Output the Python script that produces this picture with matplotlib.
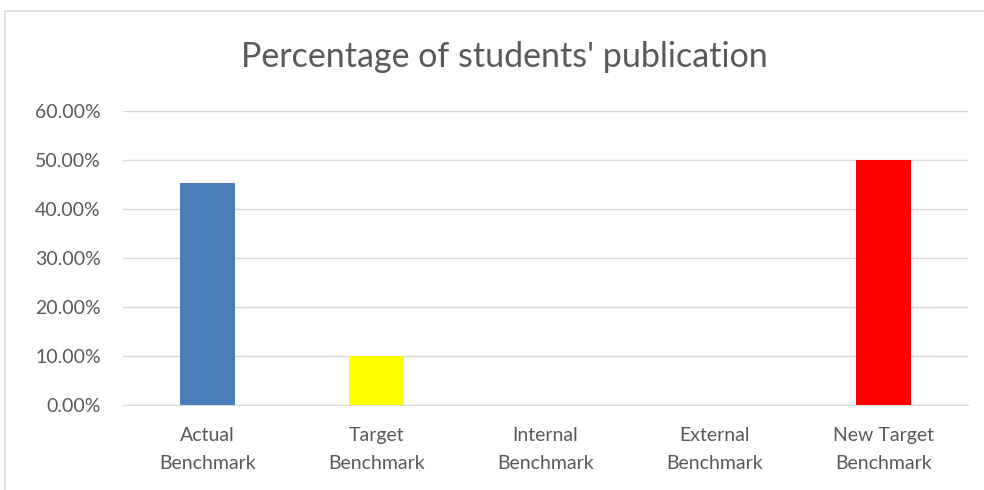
import matplotlib.pyplot as plt
from matplotlib.patches import Rectangle

categories = ['Actual\nBenchmark', 'Target\nBenchmark', 'Internal\nBenchmark',
              'External\nBenchmark', 'New Target\nBenchmark']
values = [0.453, 0.10, 0.0, 0.0, 0.50]
colors = ['#4a7ebb', '#ffff00', '#4a7ebb', '#4a7ebb', '#ff0000']

plt.rcParams['font.family'] = ['Lato', 'DejaVu Sans']

fig = plt.figure(figsize=(9.84, 4.9), dpi=100)
fig.patches.append(Rectangle((5 / 984, -0.1), 1.1, 1 - 11 / 490 + 0.1,
                             transform=fig.transFigure, fill=False,
                             edgecolor='#d9d9d9', linewidth=1.2))

ax = fig.add_axes([123 / 984, 1 - 405 / 490, (968 - 123) / 984, (405 - 111) / 490])
x = range(len(categories))
ax.bar(x, values, width=0.32, color=colors, zorder=3)

ax.set_ylim(0, 0.6)
ax.set_xlim(-0.5, len(categories) - 0.5)
ax.set_yticks([i / 10 for i in range(7)])
ax.set_yticklabels(['%.2f%%' % (i * 10) for i in range(7)])
ax.set_xticks(list(x))
ax.set_xticklabels(categories, linespacing=1.8)
ax.grid(axis='y', color='#d9d9d9', linewidth=1, zorder=0)
for side in ['top', 'right', 'left']:
    ax.spines[side].set_visible(False)
ax.spines['bottom'].set_color('#d9d9d9')
ax.tick_params(axis='both', length=0, colors='#595959', labelsize=14)
ax.tick_params(axis='x', pad=16)
ax.tick_params(axis='y', pad=16)

fig.text(504 / 984, 1 - 57 / 490, "Percentage of students' publication",
         ha='center', va='center', fontsize=24.5, color='#595959')

fig.savefig('out.png', dpi=100)
